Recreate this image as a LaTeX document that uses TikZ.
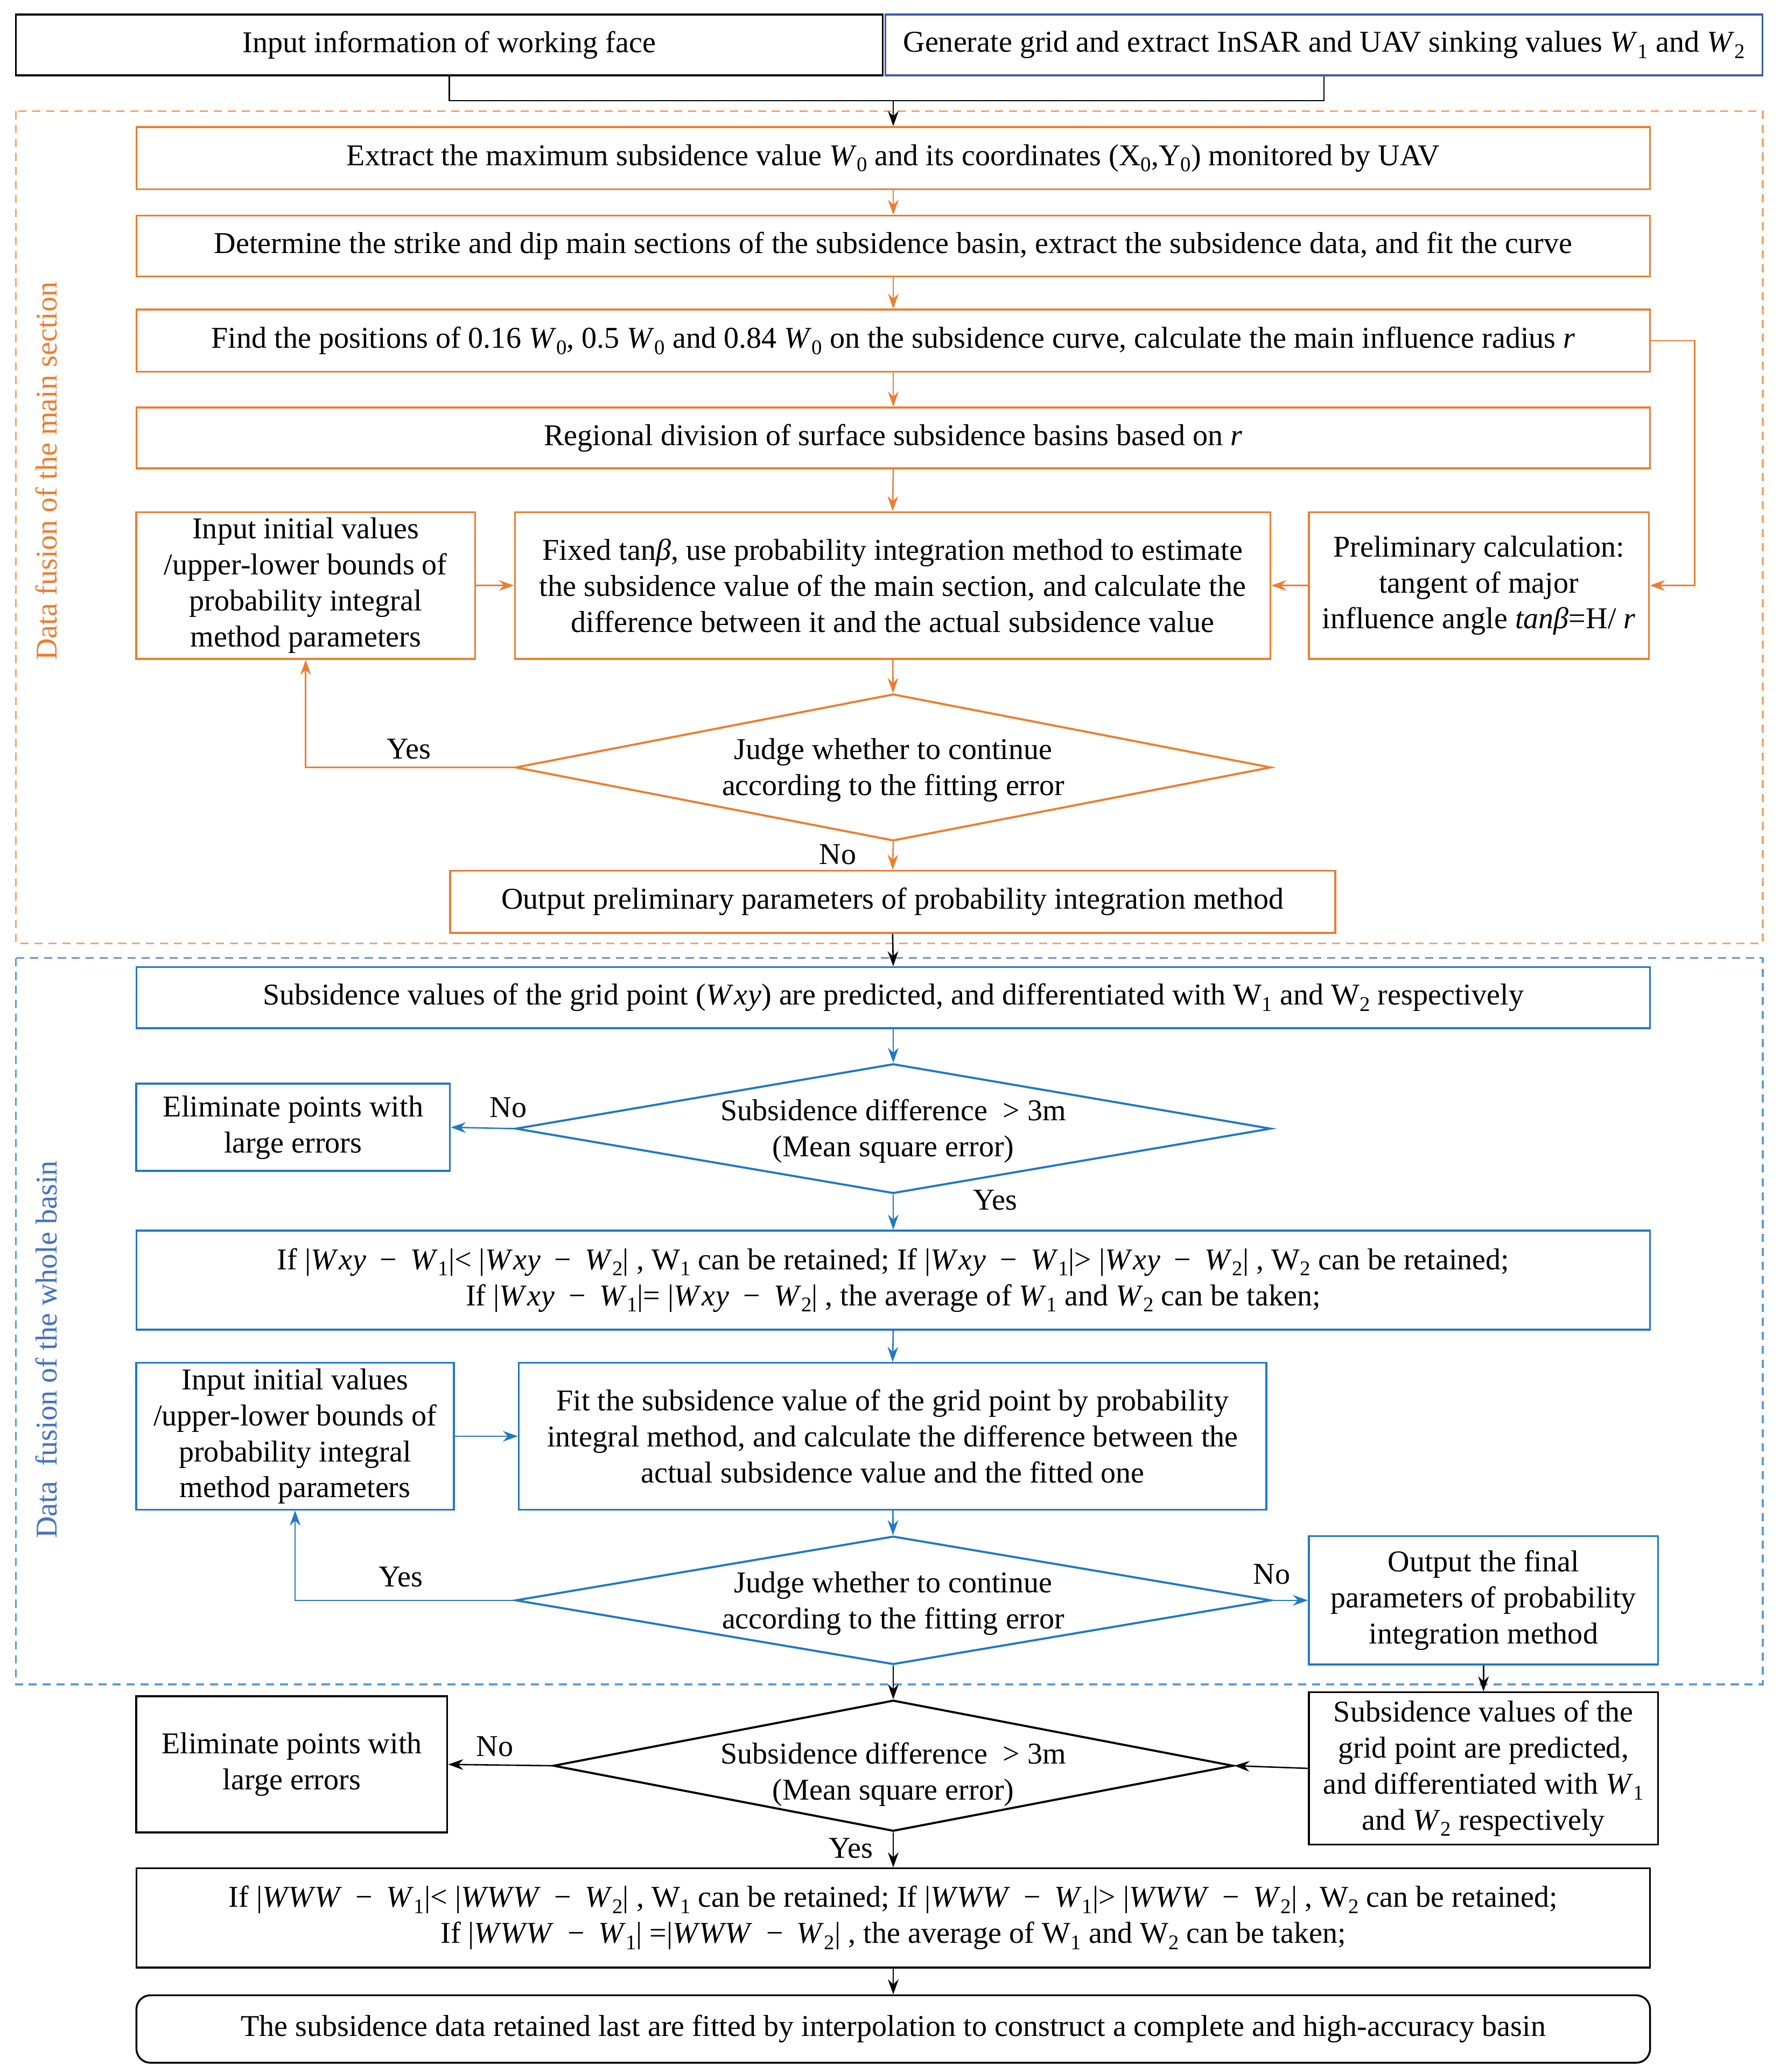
\documentclass[tikz,border=0pt]{standalone}
\usepackage{fontspec}
\setmainfont{Liberation Serif}
\usetikzlibrary{shapes.geometric,arrows.meta}
\definecolor{orbox}{HTML}{ED7D31}
\definecolor{ordash}{HTML}{F4A46C}
\definecolor{blbox}{HTML}{1F78C8}
\definecolor{bldash}{HTML}{5B9BD5}
\definecolor{bllab}{HTML}{4472C4}
\definecolor{topblue}{HTML}{3A5DA8}
\newcommand{\sbs}[1]{\raisebox{-0.45ex}{\fontsize{9pt}{9pt}\selectfont #1}}
\newcommand{\Wit}[1]{\textit{W}\sbs{#1}}
\newcommand{\Wup}[1]{W\sbs{#1}}
\newcommand{\mn}{\hspace{0.45em}−\hspace{0.45em}}
\newcommand{\wxy}{\textit{W\kern1.2pt x\kern0.3pt y}}
\newcommand{\www}{\textit{W\kern0.4pt W\kern0.4pt W}}
\begin{document}
\begin{tikzpicture}[x=0.02cm,y=-0.02cm,
  every node/.style={font=\fontsize{13pt}{15.5pt}\selectfont},
  box/.style={draw,rectangle,inner sep=0pt,align=center,line width=0.8pt},
  obox/.style={box,draw=orbox},
  bbox/.style={box,draw=blbox},
  kbox/.style={box,draw=black},
  dia/.style={draw,diamond,inner sep=0pt,line width=0.9pt},
  txt/.style={align=center,inner sep=0pt},
  arr/.style={-{Stealth[length=6.5pt,width=4.6pt,inset=2.2pt]},line width=0.6pt},
  oarr/.style={arr,draw=orbox},
  barr/.style={arr,draw=blbox},
  karr/.style={arr,draw=black},
  region/.style={line width=0.8pt,dash pattern=on 3.5pt off 2.5pt}
]
\useasboundingbox (0,0) rectangle (1350,1566);

% regions
\draw[region,draw=ordash] (12,84) rectangle (1332,713);
\draw[region,draw=bldash] (12,724) rectangle (1332,1273);
\node[rotate=90,text=orbox,inner sep=0pt] (labA) at (35,356) {Data fusion of the main section};
\node[rotate=90,text=bllab,inner sep=0pt] (labB) at (35,1020) {Data\ \ fusion of the whole basin};

% top
\node[kbox,minimum width=13.1cm,minimum height=0.92cm] (a) at (339.5,34) {Input information of working face};
\node[box,draw=topblue,minimum width=13.26cm,minimum height=0.92cm] (b) at (1000.5,34) {Generate grid and extract InSAR and UAV sinking values \Wit{1} and \Wit{2}};
\coordinate (join) at (675,76);

% orange part
\node[obox,minimum width=22.88cm,minimum height=0.94cm] (b1) at (675,119.5) {Extract the maximum subsidence value \Wit{0} and its coordinates (X\sbs{0},Y\sbs{0}) monitored by UAV};
\node[obox,minimum width=22.88cm,minimum height=0.92cm] (b2) at (675,186) {Determine the strike and dip main sections of the subsidence basin, extract the subsidence data, and fit the curve};
\node[obox,minimum width=22.88cm,minimum height=0.94cm] (b3) at (675,257.5) {Find the positions of 0.16 \Wit{0}, 0.5 \Wit{0} and 0.84 \Wit{0} on the subsidence curve, calculate the main influence radius \textit{r}};
\node[obox,minimum width=22.88cm,minimum height=0.92cm] (b4) at (675,331) {Regional division of surface subsidence basins based on \textit{r}};
\node[obox,minimum width=5.12cm,minimum height=2.22cm] (l1) at (231,442.5) {Input initial values\\/upper-lower bounds of\\probability integral\\method parameters};
\node[obox,minimum width=11.42cm,minimum height=2.22cm] (c1) at (674.5,442.5) {Fixed tan\textit{β}, use probability integration method to estimate\\the subsidence value of the main section, and calculate the\\difference between it and the actual subsidence value};
\node[obox,minimum width=5.14cm,minimum height=2.22cm] (r1) at (1117.5,442.5) {Preliminary calculation:\\tangent of major\\influence angle \textit{tanβ}=H/ \textit{r}};
\node[dia,draw=orbox,minimum width=11.42cm,minimum height=2.22cm] (d1) at (675,580) {};
\node[txt] (d1t) at (675,582) {Judge whether to continue\\according to the fitting error};
\node[obox,minimum width=13.38cm,minimum height=0.94cm] (o1) at (674.5,681.5) {Output preliminary parameters of probability integration method};

% blue part
\node[bbox,minimum width=22.88cm,minimum height=0.92cm] (e1) at (675,754) {Subsidence values of the grid point (\wxy) are predicted, and differentiated with \Wup{1} and \Wup{2} respectively};
\node[dia,draw=blbox,minimum width=11.42cm,minimum height=1.96cm] (d2) at (675,853) {};
\node[txt] (d2t) at (675,855) {Subsidence difference \ > 3m\\(Mean square error)};
\node[bbox,minimum width=4.74cm,minimum height=1.32cm] (x1) at (221.5,852) {Eliminate points with\\large errors};
\node[bbox,minimum width=22.88cm,minimum height=1.5cm] (e2) at (675,967.5) {If |\wxy\mn\Wit{1}|< |\wxy\mn\Wit{2}| , \Wup{1} can be retained; If |\wxy\mn\Wit{1}|> |\wxy\mn\Wit{2}| , \Wup{2} can be retained;\\If |\wxy\mn\Wit{1}|= |\wxy\mn\Wit{2}| , the average of \Wit{1} and \Wit{2} can be taken;};
\node[bbox,minimum width=4.8cm,minimum height=2.22cm] (l2) at (223,1085.5) {Input initial values\\/upper-lower bounds of\\probability integral\\method parameters};
\node[bbox,minimum width=11.3cm,minimum height=2.22cm] (f2) at (674.5,1085.5) {Fit the subsidence value of the grid point by probability\\integral method, and calculate the difference between the\\actual subsidence value and the fitted one};
\node[dia,draw=blbox,minimum width=11.42cm,minimum height=1.94cm] (d3) at (675,1209.5) {};
\node[txt] (d3t) at (675,1212) {Judge whether to continue\\according to the fitting error};
\node[bbox,minimum width=5.28cm,minimum height=1.94cm] (of) at (1121,1209.5) {Output the final\\parameters of probability\\integration method};

% black part
\node[dia,draw=black,minimum width=10.28cm,minimum height=1.98cm] (d4) at (675,1334.5) {};
\node[txt] (d4t) at (675,1341) {Subsidence difference \ > 3m\\(Mean square error)};
\node[kbox,minimum width=5.28cm,minimum height=2.3cm] (sv) at (1121,1336.5) {Subsidence values of the\\grid point are predicted,\\and differentiated with \Wit{1}\\and \Wit{2} respectively};
\node[kbox,minimum width=4.7cm,minimum height=2.06cm] (x2) at (220.5,1333.5) {Eliminate points with\\large errors};
\node[kbox,minimum width=22.88cm,minimum height=1.5cm] (e3) at (675,1449.5) {If |\www\mn\Wit{1}|< |\www\mn\Wit{2}| , \Wup{1} can be retained; If |\www\mn\Wit{1}|> |\www\mn\Wit{2}| , \Wup{2} can be retained;\\If |\www\mn\Wit{1}| =|\www\mn\Wit{2}| , the average of \Wup{1} and \Wup{2} can be taken;};
\node[kbox,rounded corners=6pt,minimum width=22.88cm,minimum height=1.02cm] (fin) at (675,1533.5) {The subsidence data retained last are fitted by interpolation to construct a complete and high-accuracy basin};

% connectors top
\draw[line width=0.6pt] (a.south) |- (join) -| (b.south);
\draw[karr] (join) -- (b1.north);
% orange connectors
\draw[oarr] (b1) -- (b2);
\draw[oarr] (b2) -- (b3);
\draw[oarr] (b3) -- (b4);
\draw[oarr] (b4.south) -- (c1.north);
\draw[oarr] (l1) -- (c1);
\draw[oarr] (r1) -- (c1);
\draw[oarr] (b3.east) -- ++(33,0) |- (r1.east);
\draw[oarr] (c1) -- (d1);
\draw[oarr] (d1.west) -| (l1.south);
\node (y1) at (309,566) {Yes};
\draw[oarr] (d1.south) -- (o1.north);
\node (n1) at (633,646) {No};
\draw[karr] (o1.south) -- (e1.north);
% blue connectors
\draw[barr] (e1) -- (d2);
\draw[barr] (d2.west) -- (x1.east);
\node (n2) at (384,837) {No};
\draw[barr] (d2.south) -- (e2.north);
\node (y2) at (752,907) {Yes};
\draw[barr] (e2.south) -- (f2.north);
\draw[barr] (l2) -- (f2);
\draw[barr] (f2) -- (d3);
\draw[barr] (d3.west) -| (l2.south);
\node (y3) at (303,1192) {Yes};
\draw[barr] (d3.east) -- (of.west);
\node (n3) at (961,1190) {No};
% black connectors
\draw[karr] (of.south) -- (sv.north);
\draw[karr] (d3.south) -- (d4.north);
\draw[karr] (sv.west) -- (d4.east);
\draw[karr] (d4.west) -- (x2.east);
\node (n4) at (374,1320) {No};
\draw[karr] (d4.south) -- (e3.north);
\node (y4) at (643,1397) {Yes};
\draw[karr] (e3) -- (fin);
\end{tikzpicture}
\end{document}
